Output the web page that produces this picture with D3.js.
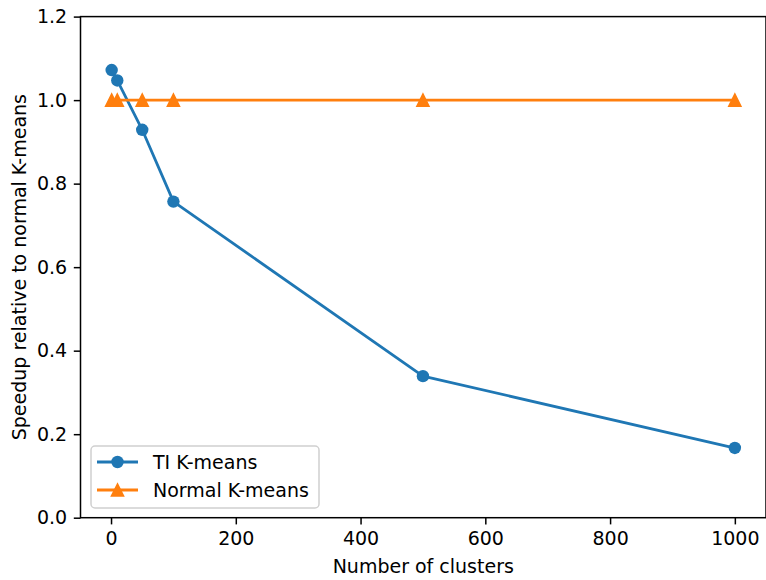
<!DOCTYPE html>
<html><head><meta charset="utf-8">
<script src="https://cdn.jsdelivr.net/npm/d3@7"></script>
<style>body{margin:0;background:#fff}svg{display:block}text{font-family:"DejaVu Sans",sans-serif;fill:#000}</style>
</head><body>
<svg id="c" width="766" height="580"></svg>
<script>
const clusters = [1, 10, 50, 100, 500, 1000];
const tiKmeans = [1.072, 1.047, 0.929, 0.757, 0.339, 0.167];
const normalKmeans = [1.0, 1.0, 1.0, 1.0, 1.0, 1.0];
const xTicks = [0, 200, 400, 600, 800, 1000];
const yTicks = [0.0, 0.2, 0.4, 0.6, 0.8, 1.0, 1.2];
const seriesNames = ["TI K-means", "Normal K-means"];
const colors = ["#1f77b4", "#ff7f0e"];

const svg = d3.select("#c");
const L = 80.5, R = 766, T = 16.6, B = 517.7;
const x = d3.scaleLinear().domain([-48.95, 1049.95]).range([L, R]);
const y = d3.scaleLinear().domain([0, 1.2]).range([B, T]);
const fs = 19;

// lines
const line = d3.line().x((d,i)=>x(clusters[i])).y(d=>y(d));
const series = [tiKmeans, normalKmeans];
series.forEach((s,k)=>{
  svg.append("path").attr("d", line(s)).attr("fill","none")
    .attr("stroke", colors[k]).attr("stroke-width",2.8).attr("stroke-linejoin","round").attr("stroke-linecap","square");
});
const tri = (cx, cy, r) => `M${cx},${cy-r}L${cx-r},${cy+r}L${cx+r},${cy+r}Z`;
function marker(g, k, cx, cy){
  if(k===0){
    g.append("circle").attr("cx",cx).attr("cy",cy).attr("r",6.2).attr("fill",colors[0]);
  } else {
    g.append("path").attr("d", tri(cx, cy, 6)).attr("fill",colors[1]).attr("stroke",colors[1]).attr("stroke-width",1.6).attr("stroke-linejoin","miter");
  }
}
series.forEach((s,k)=>{ s.forEach((v,i)=>marker(svg, k, x(clusters[i]), y(v))); });

// axes
const xa = d3.axisBottom(x).tickValues(xTicks).tickSize(6.7).tickPadding(7.5).tickFormat(d3.format("d"));
const ya = d3.axisLeft(y).tickValues(yTicks).tickSize(6.7).tickPadding(6.7).tickFormat(d3.format(".1f"));
const gx = svg.append("g").attr("transform",`translate(0,${B})`).call(xa);
const gy = svg.append("g").attr("transform",`translate(${L},0)`).call(ya);
[gx,gy].forEach(g=>{
  g.select(".domain").remove();
  g.selectAll(".tick line").attr("stroke","#000").attr("stroke-width",1.5);
  g.selectAll(".tick text").attr("font-size",fs).attr("font-family","DejaVu Sans").attr("fill","#000");
});
// spines
svg.append("rect").attr("x",L).attr("y",T).attr("width",R-L).attr("height",B-T)
  .attr("fill","none").attr("stroke","#000").attr("stroke-width",1.5);

// labels
svg.append("text").attr("x",(L+R)/2).attr("y",573).attr("text-anchor","middle").attr("font-size",fs).text("Number of clusters");
svg.append("text").attr("transform",`translate(26,${(T+B)/2}) rotate(-90)`).attr("text-anchor","middle").attr("font-size",fs).text("Speedup relative to normal K-means");

// legend
const lg = svg.append("g");
lg.append("rect").attr("x",91).attr("y",446).attr("width",228).attr("height",62).attr("rx",4)
  .attr("fill","#fff").attr("fill-opacity",0.8).attr("stroke","#d0d0d0").attr("stroke-width",1.5);
seriesNames.forEach((n,k)=>{
  const yy = 462 + k*28;
  lg.append("line").attr("x1",97).attr("x2",138).attr("y1",yy).attr("y2",yy).attr("stroke",colors[k]).attr("stroke-width",2.8);
  marker(lg, k, 117.5, yy);
  lg.append("text").attr("x",153).attr("y",yy+7).attr("font-size",fs).text(n);
});
</script>
</body></html>
